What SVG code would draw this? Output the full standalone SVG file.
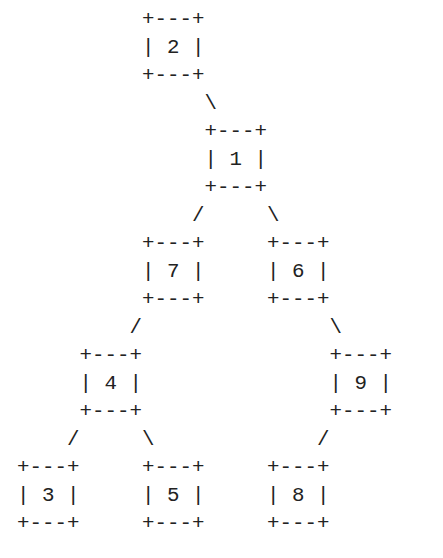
<svg xmlns="http://www.w3.org/2000/svg" width="443" height="558" viewBox="0 0 443 558">
<style>
text { font-family: "Liberation Mono", "DejaVu Sans Mono", monospace; font-size: 20.8px; fill: #222; white-space: pre; }
</style>
<rect width="443" height="558" fill="#ffffff"/>
<g id="connectors">
<text x="204.5" y="109.2">\</text>
<text x="192" y="221">/</text>
<text x="267" y="221">\</text>
<text x="129.5" y="332.9">/</text>
<text x="329.5" y="332.9">\</text>
<text x="67" y="444.7">/</text>
<text x="142" y="444.7">\</text>
<text x="317" y="444.7">/</text>
</g>
<g id="node2">
<text x="142" y="25.3">+---+</text>
<text x="142" y="53.3" xml:space="preserve">| 2 |</text>
<text x="142" y="81.2">+---+</text>
</g>
<g id="node1">
<text x="204.5" y="137.1">+---+</text>
<text x="204.5" y="165.1" xml:space="preserve">| 1 |</text>
<text x="204.5" y="193.1">+---+</text>
</g>
<g id="node7">
<text x="142" y="249">+---+</text>
<text x="142" y="276.9" xml:space="preserve">| 7 |</text>
<text x="142" y="304.9">+---+</text>
</g>
<g id="node6">
<text x="267" y="249">+---+</text>
<text x="267" y="276.9" xml:space="preserve">| 6 |</text>
<text x="267" y="304.9">+---+</text>
</g>
<g id="node4">
<text x="79.5" y="360.8">+---+</text>
<text x="79.5" y="388.8" xml:space="preserve">| 4 |</text>
<text x="79.5" y="416.7">+---+</text>
</g>
<g id="node9">
<text x="329.5" y="360.8">+---+</text>
<text x="329.5" y="388.8" xml:space="preserve">| 9 |</text>
<text x="329.5" y="416.7">+---+</text>
</g>
<g id="node3">
<text x="17" y="472.7">+---+</text>
<text x="17" y="500.6" xml:space="preserve">| 3 |</text>
<text x="17" y="528.6">+---+</text>
</g>
<g id="node5">
<text x="142" y="472.7">+---+</text>
<text x="142" y="500.6" xml:space="preserve">| 5 |</text>
<text x="142" y="528.6">+---+</text>
</g>
<g id="node8">
<text x="267" y="472.7">+---+</text>
<text x="267" y="500.6" xml:space="preserve">| 8 |</text>
<text x="267" y="528.6">+---+</text>
</g>
</svg>
